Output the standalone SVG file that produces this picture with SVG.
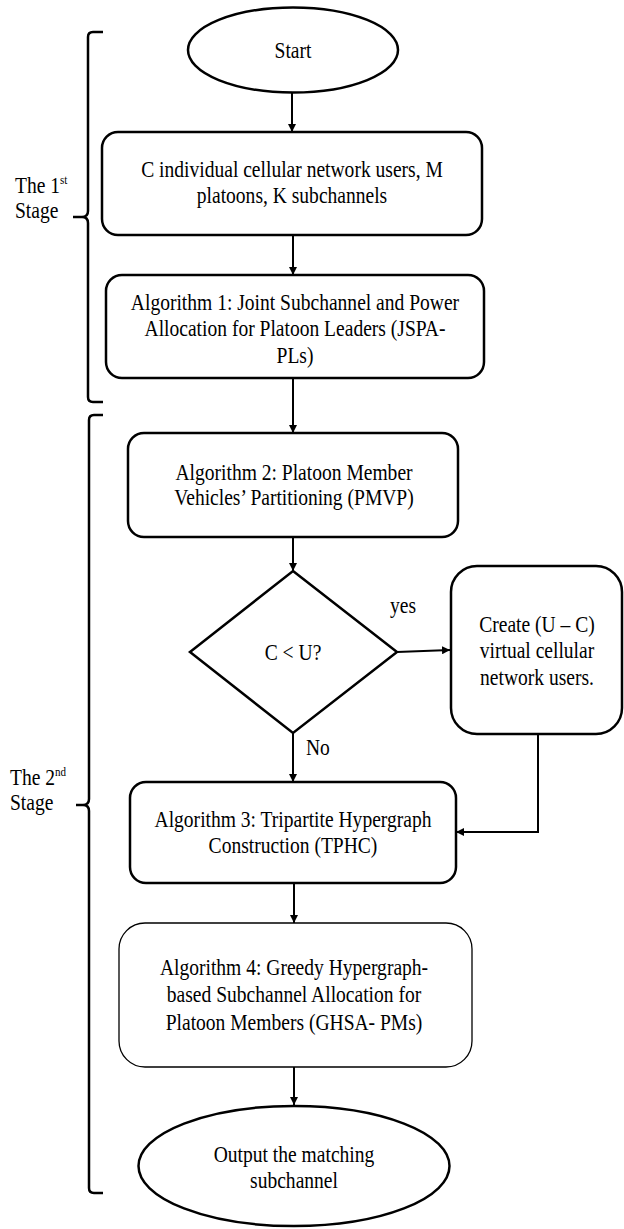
<svg xmlns="http://www.w3.org/2000/svg" width="624" height="1229" viewBox="0 0 624 1229" font-family="'Liberation Serif', 'Times New Roman', 'DejaVu Serif', serif">
  <defs>
    <marker id="arrow" viewBox="0 0 10 10" refX="10" refY="5" markerWidth="4" markerHeight="4" markerUnits="strokeWidth" orient="auto">
      <path d="M0,0 L10,5 L0,10 Z" fill="#000"/>
    </marker>
    <style>
      .shape { fill: #fff; stroke: #000; stroke-width: 2.5; }
      .thin { fill: #fff; stroke: #000; stroke-width: 1.3; }
      .conn { fill: none; stroke: #000; stroke-width: 2; marker-end: url(#arrow); }
      .brace { fill: none; stroke: #000; stroke-width: 2.5; }
      text { font-family: 'Liberation Serif', 'Times New Roman', 'DejaVu Serif', serif; font-size: 23px; fill: #000; }
      .c { text-anchor: middle; }
      .sup { font-size: 13px; }
    </style>
  </defs>

  <rect width="624" height="1229" fill="#fff"/>

  <!-- stage braces and labels -->
  <g id="stage1">
    <path class="brace" d="M103,32 H93 Q88,32 88,37 V211 Q88,217 82,217 H73 H82 Q88,217 88,223 V397 Q88,402 93,402 H103"/>
    <text transform="translate(15,193) scale(0.85,1)">The 1<tspan class="sup" dy="-9">st</tspan></text>
    <text transform="translate(15,218) scale(0.85,1)">Stage</text>
  </g>
  <g id="stage2">
    <path class="brace" d="M103,415 H94 Q89,415 89,420 V799 Q89,805 83,805 H76 H83 Q89,805 89,811 V1188 Q89,1193 94,1193 H103"/>
    <text transform="translate(10,785) scale(0.85,1)">The 2<tspan class="sup" dy="-9">nd</tspan></text>
    <text transform="translate(10,810) scale(0.85,1)">Stage</text>
  </g>

  <!-- connectors -->
  <g id="connectors">
    <path class="conn" d="M292,92 V132"/>
    <path class="conn" d="M293,235 V275"/>
    <path class="conn" d="M293,378 V433"/>
    <path class="conn" d="M293,537 V571"/>
    <path class="conn" d="M397,652 L450,650"/>
    <path class="conn" d="M293,733 V782"/>
    <path class="conn" d="M538,734 V832 H456"/>
    <path class="conn" d="M294,883 V923"/>
    <path class="conn" d="M294,1067 V1105"/>
    <text transform="translate(390,613) scale(0.85,1)">yes</text>
    <text transform="translate(306,755) scale(0.85,1)">No</text>
  </g>

  <g id="start">
    <ellipse class="shape" cx="293" cy="50" rx="105" ry="42.5" stroke-width="2"/>
    <text class="c" transform="translate(293,58) scale(0.85,1)">Start</text>
  </g>

  <g id="inputs">
    <rect class="shape" x="102" y="132" width="380" height="103" rx="16"/>
    <text class="c" transform="translate(292,177) scale(0.85,1)">C individual cellular network users, M<tspan x="0" dy="26.5">platoons, K subchannels</tspan></text>
  </g>

  <g id="alg1">
    <rect class="shape" x="106" y="275" width="378" height="103" rx="16"/>
    <text class="c" transform="translate(295,310) scale(0.85,1)">Algorithm 1: Joint Subchannel and Power<tspan x="0" dy="26.5">Allocation for Platoon Leaders (JSPA-</tspan><tspan x="0" dy="26.5">PLs)</tspan></text>
  </g>

  <g id="alg2">
    <rect class="shape" x="128" y="433" width="330" height="104" rx="16"/>
    <text class="c" transform="translate(294,480) scale(0.85,1)">Algorithm 2: Platoon Member<tspan x="0" dy="25.5">Vehicles’ Partitioning (PMVP)</tspan></text>
  </g>

  <g id="decision">
    <polygon class="shape" points="293,571 397,652 293,733 190,652"/>
    <text class="c" transform="translate(293,660) scale(0.85,1)">C &lt; U?</text>
  </g>

  <g id="virtual-users">
    <rect class="shape" x="451" y="566" width="171" height="168" rx="26"/>
    <text class="c" transform="translate(537,632) scale(0.85,1)">Create (U – C)<tspan x="0" dy="26.5">virtual cellular</tspan><tspan x="0" dy="26.5">network users.</tspan></text>
  </g>

  <g id="alg3">
    <rect class="shape" x="130" y="782" width="326" height="101" rx="16"/>
    <text class="c" transform="translate(293,827) scale(0.85,1)">Algorithm 3: Tripartite Hypergraph<tspan x="0" dy="26.5">Construction (TPHC)</tspan></text>
  </g>

  <g id="alg4">
    <rect class="thin" x="119" y="923" width="353" height="144" rx="26"/>
    <text class="c" transform="translate(294,975) scale(0.85,1)">Algorithm 4: Greedy Hypergraph-<tspan x="0" dy="27.5">based Subchannel Allocation for</tspan><tspan x="0" dy="27.5">Platoon Members (GHSA- PMs)</tspan></text>
  </g>

  <g id="output">
    <ellipse class="shape" cx="294" cy="1166" rx="155.5" ry="60" stroke-width="2"/>
    <text class="c" transform="translate(294,1162) scale(0.85,1)">Output the matching<tspan x="0" dy="26.5">subchannel</tspan></text>
  </g>
</svg>
